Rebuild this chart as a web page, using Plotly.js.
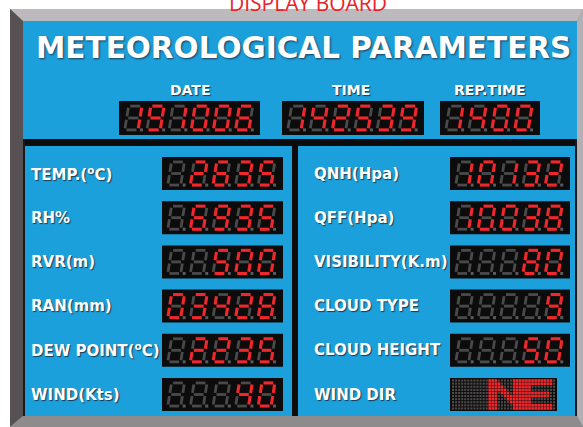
<!DOCTYPE html>
<html>
<head>
<meta charset="utf-8">
<script src="https://cdn.plot.ly/plotly-3.0.1.min.js"></script>
<style>html,body{margin:0;padding:0;background:#fff;}#chart{width:583px;height:427px;}</style>
</head>
<body>
<div id="chart"></div>
<script>
// ---------------- DATA ----------------
const boardCaption = 'DISPLAY BOARD';
const boardTitle = 'METEOROLOGICAL PARAMETERS';
const headerLabels = ['DATE', 'TIME', 'REP.TIME'];
const headerValues = ['191006', '142539', '1400'];
const leftLabels = ['TEMP.(<sup>o</sup>C)', 'RH%', 'RVR(m)', 'RAN(mm)', 'DEW POINT(<sup>o</sup>C)', 'WIND(Kts)'];
const leftValues = [' 2635', ' 6935', '  500', '03428', ' 2235', '   40'];
const rightLabels = ['QNH(Hpa)', 'QFF(Hpa)', 'VISIBILITY(K.m)', 'CLOUD TYPE', 'CLOUD HEIGHT', 'WIND DIR'];
const rightValues = ['10132', '10038', '   80', '    9', '   50', 'NE'];
const digitCounts = {header: [6, 6, 4], rows: 5};

// ---------------- GLYPHS ----------------
const SEG = {
  '0': 'abcdef', '1': 'bc', '2': 'abged', '3': 'abgcd', '4': 'fgbc',
  '5': 'afgcd', '6': 'afgedc', '7': 'abc', '8': 'abcdefg', '9': 'abcdfg', ' ': ''
};
const MATRIX = {
  'N': ['XXX.....XXX','XXXX....XXX','XXXXX...XXX','XXXXXX..XXX','XXX.XXX.XXX',
        'XXX..XXXXXX','XXX...XXXXX','XXX....XXXX','XXX.....XXX','XXX.....XXX'],
  'E': ['XXXXXXXXXX','XXXXXXXXXX','XXX.......','XXX.......','XXXXXXXXX.',
        'XXXXXXXXX.','XXX.......','XXX.......','XXXXXXXXXX','XXXXXXXXXX']
};

// ---------------- GEOMETRY ----------------
const RED = '#f0282c', DIM = '#4a4a4a', BOX = '#0c0c0c';
const headerBoxes = [[119, 101, 260, 135], [282, 101, 424, 135], [440, 101, 540, 135]];
const headerLabelX = [190, 351, 490];
const rowY0 = 157, rowStep = 44.2, rowH = 33;
const leftBoxX = [162, 283], rightBoxX = [450, 570], matrixBoxX = [450, 557];

const shapes = [];
const annotations = [];
const dimX = [], dimY = [], redX = [], redY = [];
const dotDimX = [], dotDimY = [];
const mDimX = [], mDimY = [], mRedX = [], mRedY = [];

function rect(x0, y0, x1, y1, fill) {
  shapes.push({type: 'rect', xref: 'x', yref: 'y', x0, y0, x1, y1, fillcolor: fill,
               line: {width: 0}, layer: 'below'});
}
function poly(pts, fill) {
  const p = 'M' + pts.map(q => q[0] + ',' + q[1]).join('L') + 'Z';
  shapes.push({type: 'path', xref: 'x', yref: 'y', path: p, fillcolor: fill, line: {width: 0}, layer: 'below'});
}

function sevenSeg(box, str, n) {
  const [x0, y0, x1, y1] = box;
  rect(x0, y0, x1, y1, BOX);
  const pad = 4;
  const pitch = (x1 - x0 - 2 * pad) / n;
  const bh = y1 - y0;
  const h = bh * 0.7;
  const w = Math.min(pitch * 0.6, h * 0.56);
  const base = y1 - (bh - h) / 2;
  const sk = 0.16, g = 1.6;
  const s = str.padStart(n, ' ');
  for (let i = 0; i < n; i++) {
    const gx = x0 + pad + pitch * i + pitch * 0.08;
    const P = (u, v) => [gx + u + v * sk, base - v];
    const segs = {
      a: [[g, h], [w - g, h]], b: [[w, h - g], [w, h / 2 + g]], c: [[w, h / 2 - g], [w, g]],
      d: [[g, 0], [w - g, 0]], e: [[0, g], [0, h / 2 - g]], f: [[0, h / 2 + g], [0, h - g]],
      g: [[g, h / 2], [w - g, h / 2]]
    };
    const lit = SEG[s[i]] || '';
    for (const k of 'abcdefg') {
      const [p0, p1] = segs[k].map(q => P(q[0], q[1]));
      const X = lit.includes(k) ? redX : dimX, Y = lit.includes(k) ? redY : dimY;
      X.push(p0[0], p1[0], null); Y.push(p0[1], p1[1], null);
    }
    const dp = P(w + 3.4, 0);
    dotDimX.push(dp[0]); dotDimY.push(dp[1]);
  }
}

function dotMatrix(box, str) {
  const [x0, y0, x1, y1] = box;
  rect(x0, y0, x1, y1, BOX);
  const cols = 34, rows = 10;
  const px = (x1 - x0 - 3) / cols, py = (y1 - y0 - 2) / rows;
  const lit = new Set();
  let c0 = 12;
  for (const ch of str) {
    const bm = MATRIX[ch];
    if (!bm) { c0 += 6; continue; }
    bm.forEach((row, r) => { for (let c = 0; c < row.length; c++) if (row[c] === 'X') lit.add(r + ',' + (c0 + c)); });
    c0 += bm[0].length;
  }
  for (let r = 0; r < rows; r++) for (let c = 0; c < cols; c++) {
    const x = x0 + 1.5 + px * (c + 0.5), y = y0 + 1 + py * (r + 0.5);
    if (lit.has(r + ',' + c)) { mRedX.push(x); mRedY.push(y); } else { mDimX.push(x); mDimY.push(y); }
  }
}

// ---------------- BOARD FRAME ----------------
const FX0 = 10, FY0 = 9, FX1 = 583, FY1 = 427, IX0 = 23, IY0 = 21, IX1 = 577, IY1 = 416;
rect(FX0, FY0, FX1, FY1, '#8d8a8c');
poly([[FX0, FY0], [FX1, FY0], [IX1, IY0], [IX0, IY0]], '#bcbabc');
poly([[FX0, FY0], [IX0, IY0], [IX0, IY1], [FX0, FY1]], '#575153');
poly([[FX1, FY0], [FX1, FY1], [IX1, IY1], [IX1, IY0]], '#b2b0b2');
poly([[FX0, FY1], [FX1, FY1], [IX1, IY1], [IX0, IY1]], '#8e8b8d');
rect(IX0, IY0, IX1, IY1, '#1ca0dc');
// dividers
rect(IX0, 139, IX1, 146, BOX);
rect(292, 139, 298, IY1, BOX);
rect(IX0, 139, IX0 + 2, IY1, '#1a1a1a');
rect(IX1 - 2, 139, IX1, IY1, '#1a1a1a');

// ---------------- CONTENT ----------------
const FONT = 'DejaVu Sans, Arial, sans-serif';
const SHADOW = '1px 1px 1px #1b3a55';
annotations.push({x: 308, y: 2.5, xref: 'x', yref: 'y', text: boardCaption, showarrow: false,
  xanchor: 'center', yanchor: 'middle', font: {family: 'Open Sans, DejaVu Sans, sans-serif', size: 21, color: '#e8232a'}});
annotations.push({x: 303, y: 48, xref: 'x', yref: 'y', text: '<b>' + boardTitle + '</b>', showarrow: false,
  xanchor: 'center', yanchor: 'middle', font: {family: FONT, size: 29.5, color: '#ffffff', shadow: '1px 1px 2px #1b3a55'}});

headerLabels.forEach((lab, i) => {
  annotations.push({x: headerLabelX[i], y: 90, xref: 'x', yref: 'y', text: '<b>' + lab + '</b>', showarrow: false,
    xanchor: 'center', yanchor: 'middle', font: {family: FONT, size: 14, color: '#ffffff', shadow: SHADOW}});
  sevenSeg(headerBoxes[i], headerValues[i], digitCounts.header[i]);
});

function rowLabel(x, y, text) {
  annotations.push({x, y, xref: 'x', yref: 'y', text: '<b>' + text + '</b>', showarrow: false,
    xanchor: 'left', yanchor: 'middle', font: {family: FONT, size: 15, color: '#ffffff', shadow: SHADOW}});
}
leftLabels.forEach((lab, i) => {
  const y0 = rowY0 + rowStep * i;
  rowLabel(29, y0 + rowH / 2, lab);
  sevenSeg([leftBoxX[0], y0, leftBoxX[1], y0 + rowH], leftValues[i], digitCounts.rows);
});
rightLabels.forEach((lab, i) => {
  const y0 = rowY0 + rowStep * i;
  rowLabel(312, y0 + rowH / 2, lab);
  if (/^[0-9 ]*$/.test(rightValues[i])) {
    sevenSeg([rightBoxX[0], y0, rightBoxX[1], y0 + rowH], rightValues[i], digitCounts.rows);
  } else {
    dotMatrix([matrixBoxX[0], y0, matrixBoxX[1], y0 + rowH], rightValues[i]);
  }
});

const traces = [
  {x: dimX, y: dimY, mode: 'lines', line: {color: DIM, width: 2.8}, hoverinfo: 'skip', connectgaps: false},
  {x: redX, y: redY, mode: 'lines', line: {color: RED, width: 3.1}, hoverinfo: 'skip', connectgaps: false},
  {x: dotDimX, y: dotDimY, mode: 'markers', marker: {color: '#5a5a5a', size: 3, symbol: 'square'}, hoverinfo: 'skip'},
  {x: mDimX, y: mDimY, mode: 'markers', marker: {color: '#4e4a4a', size: 2.1, symbol: 'square'}, hoverinfo: 'skip'},
  {x: mRedX, y: mRedY, mode: 'markers', marker: {color: RED, size: 2.7, symbol: 'square'}, hoverinfo: 'skip'}
];

const layout = {
  width: 583, height: 427,
  margin: {l: 0, r: 0, t: 0, b: 0, pad: 0},
  paper_bgcolor: '#ffffff', plot_bgcolor: '#ffffff',
  showlegend: false,
  xaxis: {range: [0, 583], visible: false, fixedrange: true},
  yaxis: {range: [427, 0], visible: false, fixedrange: true},
  shapes, annotations
};
Plotly.newPlot('chart', traces, layout, {staticPlot: true, displayModeBar: false});
</script>
</body>
</html>
